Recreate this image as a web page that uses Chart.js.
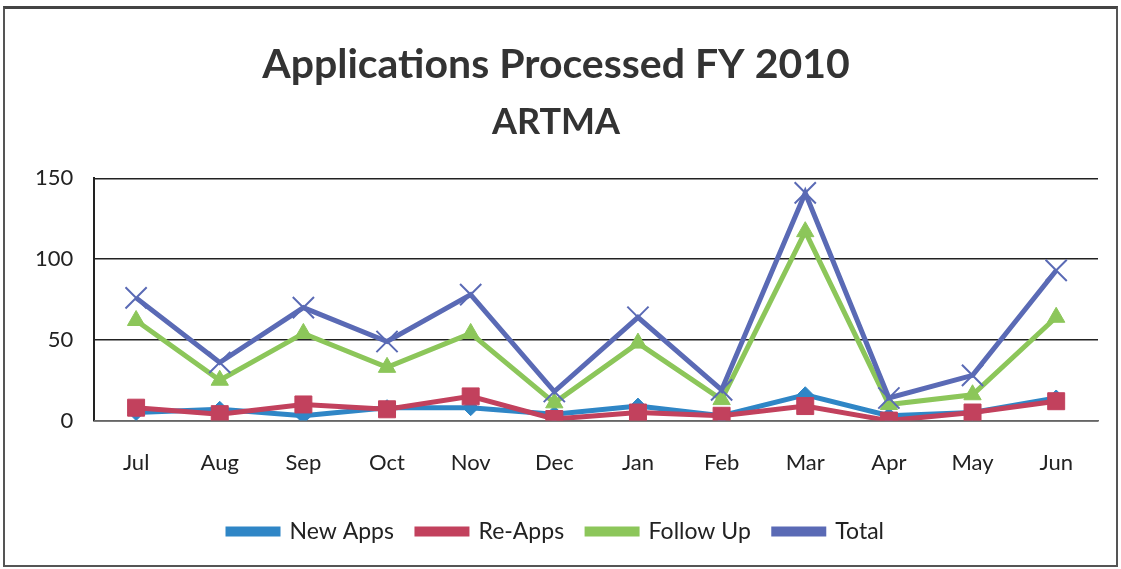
<!DOCTYPE html>
<html>
<head>
<meta charset="utf-8">
<script src="https://cdn.jsdelivr.net/npm/chart.js@4"></script>
<style>
    html, body { margin: 0; padding: 0; background: #fff; }
    #frame {
        position: absolute;
        left: 3px; top: 6px;
        width: 1111px; height: 556px;
        border: 2px solid #555;
        border-top: 3px solid #444;
    }
    #wrap { position: absolute; left: 0; top: 0; width: 1111px; height: 556px; }
</style>
</head>
<body>
<div id="frame"><div id="wrap"><canvas id="AppsChart"></canvas></div></div>
<script>
const months = ['Jul', 'Aug', 'Sep', 'Oct', 'Nov', 'Dec', 'Jan', 'Feb', 'Mar', 'Apr', 'May', 'Jun'];
const newApps = [5, 7, 3, 8, 8, 4, 9, 3, 16, 3, 5, 14];
const reApps = [8, 4, 10, 7, 15, 1, 5, 3, 9, 0, 5, 12];
const followUp = [62, 25, 54, 33, 54, 11, 48, 13, 117, 10, 16, 64];
const total = [76, 36, 70, 49, 78, 18, 64, 19, 141, 14, 28, 93];
const yTicks = [0, 50, 100, 150];

const fontFamily = 'Lato, "Open Sans", sans-serif';

// later series sit on top, like the original
const series = (label, data, color, style, radius, order) => ({
    label: label,
    data: data,
    order: order,
    borderColor: color,
    backgroundColor: color,
    borderWidth: 5,
    pointStyle: style,
    pointRadius: radius,
    pointBorderWidth: style === 'crossRot' ? 2 : 1,
    pointBorderColor: color,
    tension: 0,
    fill: false
});

const canvas = document.getElementById('AppsChart').getContext('2d');

new Chart(canvas, {
    type: 'line',
    data: {
        labels: months,
        datasets: [
            series('New Apps', newApps, '#2f86c6', 'rectRot', 8, 3),
            series('Re-Apps', reApps, '#c2415d', 'rect', 12, 2),
            series('Follow Up', followUp, '#8cc65a', 'triangle', 10, 1),
            series('Total', total, '#5a6ab5', 'crossRot', 15, 0)
        ]
    },
    options: {
        responsive: true,
        maintainAspectRatio: false,
        animation: false,
        layout: { padding: { left: 9, right: 18, top: 10, bottom: 12 } },
        plugins: {
            title: {
                display: true,
                text: 'Applications Processed FY 2010',
                color: '#333',
                font: { family: fontFamily, weight: 'bold', size: 41 },
                padding: { top: 21, bottom: 12 }
            },
            subtitle: {
                display: true,
                text: 'ARTMA',
                color: '#333',
                font: { family: fontFamily, weight: 'bold', size: 36 },
                padding: { bottom: 34 }
            },
            legend: {
                position: 'bottom',
                labels: {
                    color: '#222',
                    boxWidth: 50,
                    boxHeight: 5,
                    padding: 23,
                    font: { family: fontFamily, size: 23 },
                    sort: (a, b) => a.datasetIndex - b.datasetIndex
                }
            },
            tooltip: { enabled: false }
        },
        scales: {
            y: {
                min: 0,
                max: 150,
                afterBuildTicks: axis => { axis.ticks = yTicks.map(v => ({ value: v })); },
                grid: { color: '#222', lineWidth: 1.5, drawTicks: false },
                border: { display: true, color: '#222', width: 2 },
                ticks: {
                    color: '#222',
                    padding: 21,
                    font: { family: fontFamily, size: 22 }
                }
            },
            x: {
                offset: true,
                grid: { display: false },
                border: { display: true, color: '#666', width: 1.5 },
                ticks: {
                    color: '#222',
                    padding: 21,
                    font: { family: fontFamily, size: 22 }
                }
            }
        }
    }
});
</script>
</body>
</html>
